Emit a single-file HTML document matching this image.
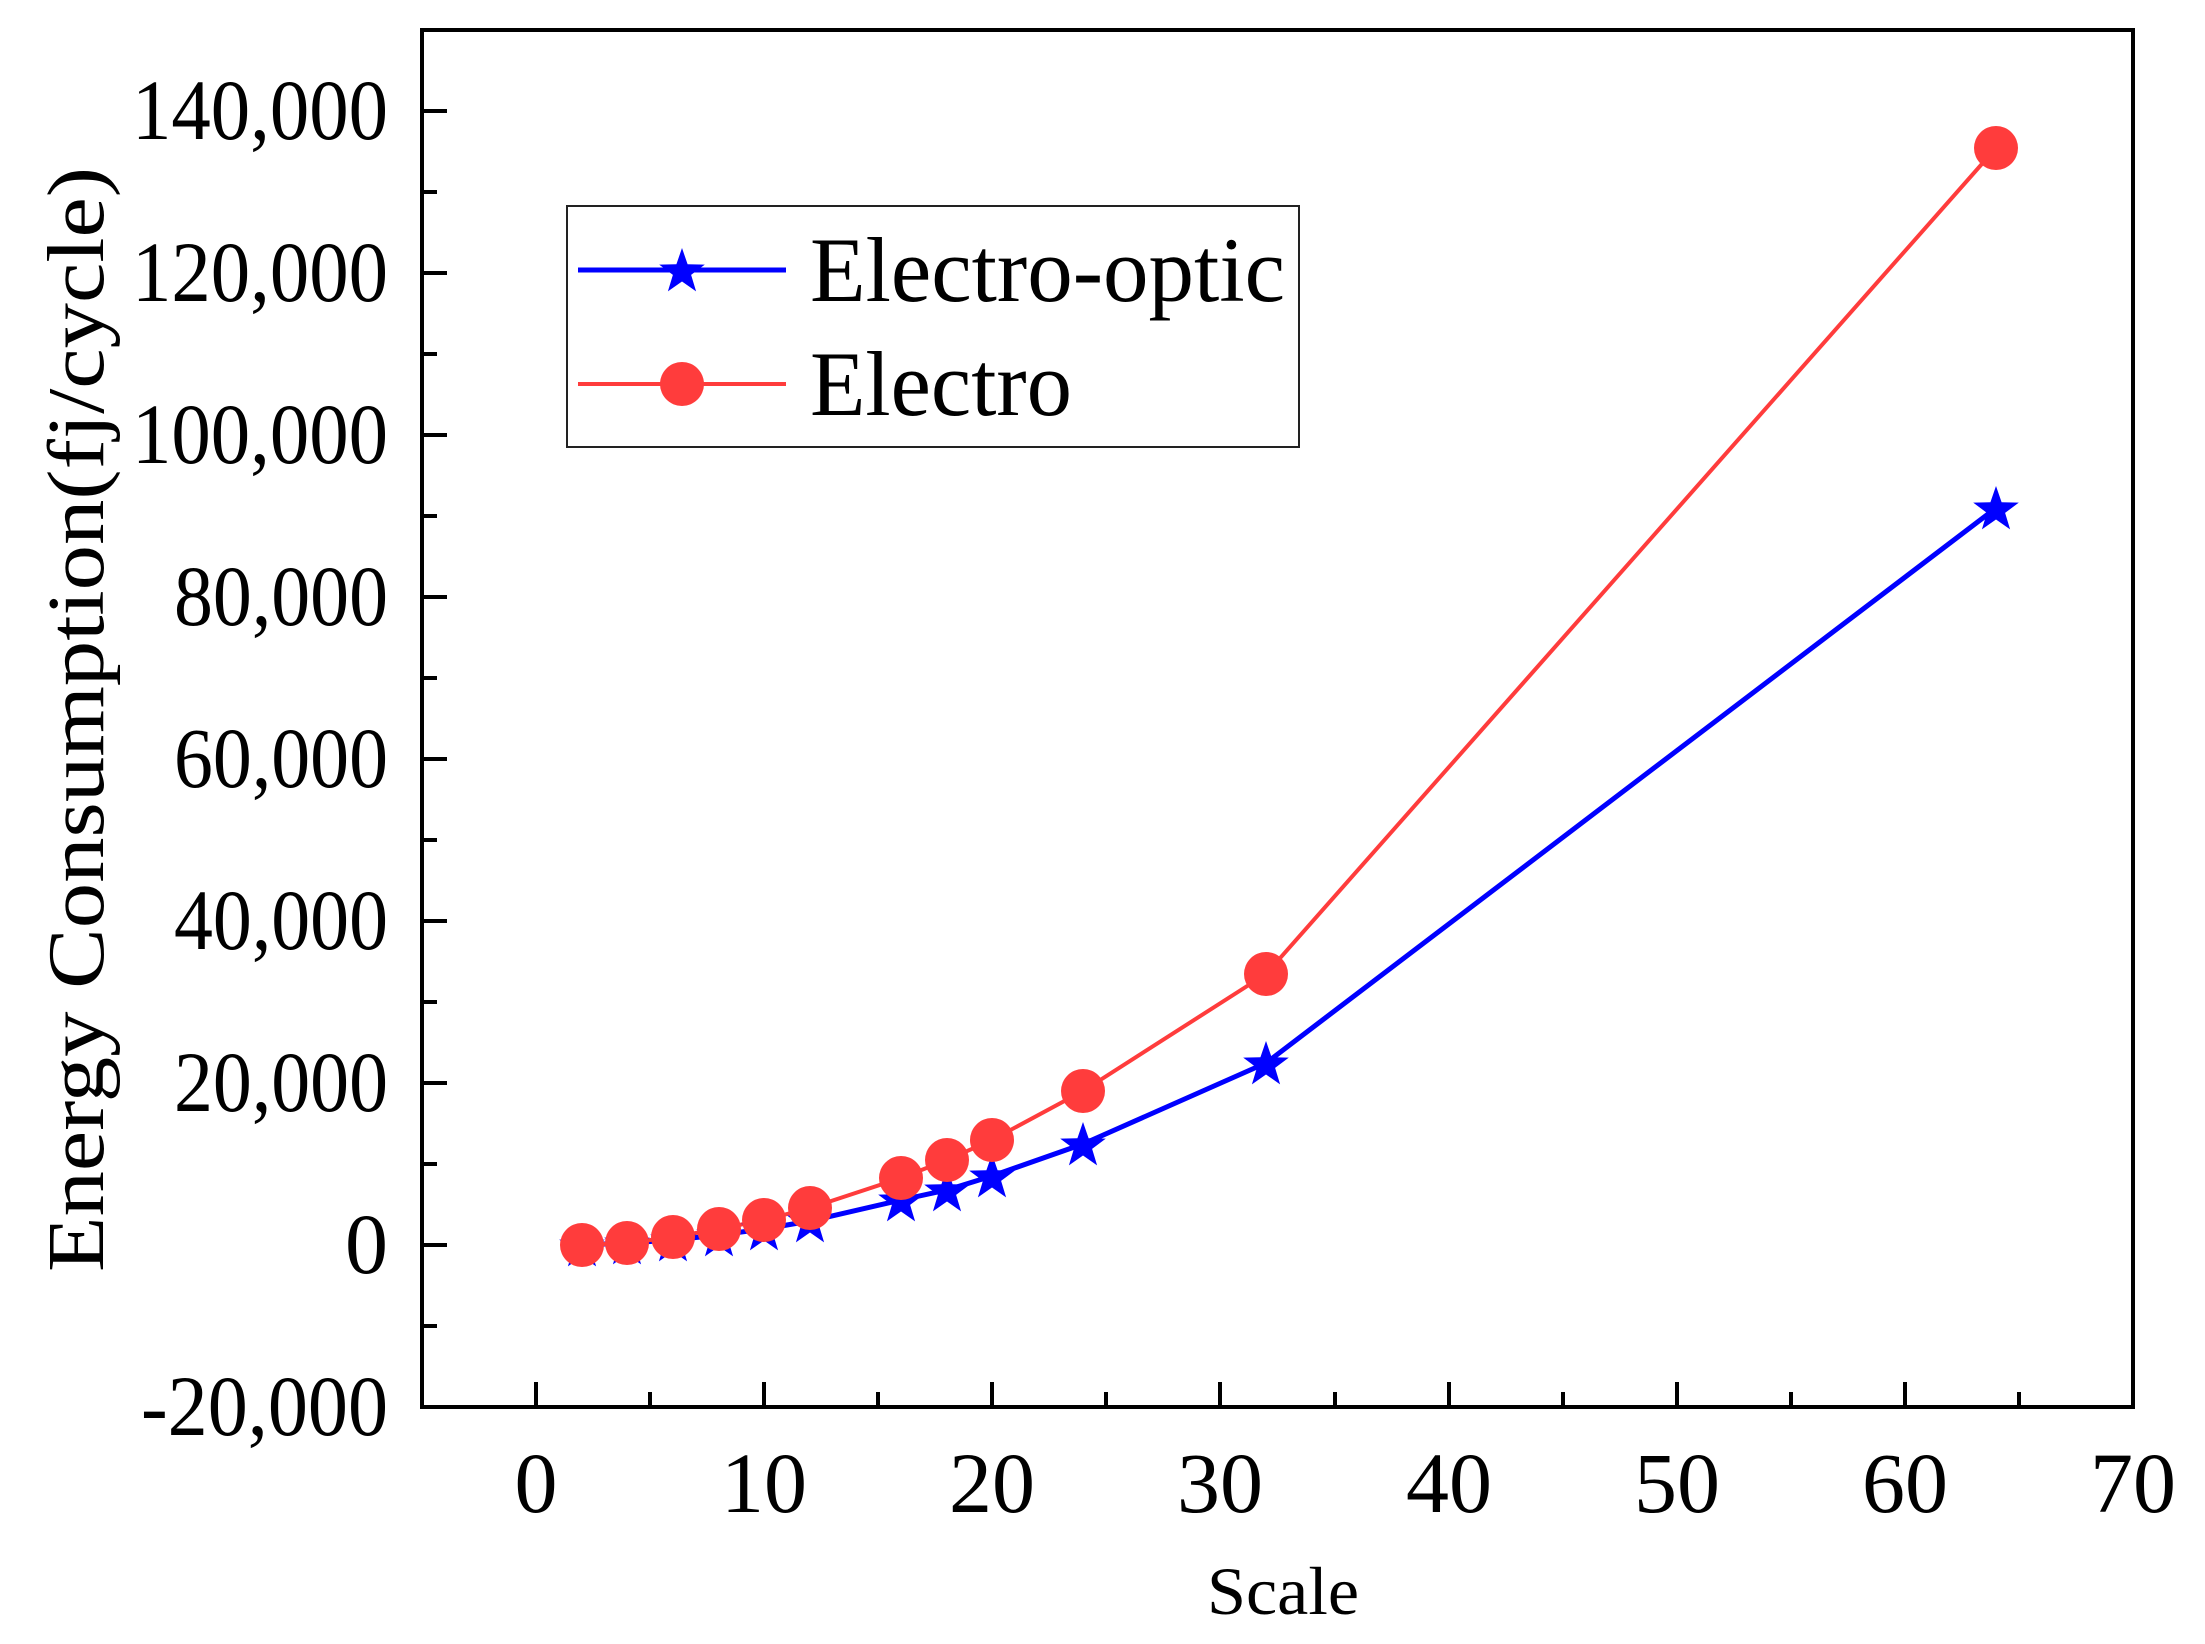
<!DOCTYPE html>
<html><head><meta charset="utf-8"><style>html,body{margin:0;padding:0;background:#fff}svg{display:block}</style></head><body>
<svg width="2205" height="1644" viewBox="0 0 2205 1644" xmlns="http://www.w3.org/2000/svg" font-family="'Liberation Serif', serif">
<defs>
<path id="star" d="M0,-24 L5.6,-7.7 L22.8,-7.4 L9.1,2.9 L14.1,19.4 L0,9.5 L-14.1,19.4 L-9.1,2.9 L-22.8,-7.4 L-5.6,-7.7 Z" fill="#0000ff"/>
</defs>
<rect x="0" y="0" width="2205" height="1644" fill="#fff"/>
<g stroke="#000" stroke-width="4">
<line x1="536" y1="1407" x2="536" y2="1382"/><line x1="764" y1="1407" x2="764" y2="1382"/><line x1="992" y1="1407" x2="992" y2="1382"/><line x1="1220" y1="1407" x2="1220" y2="1382"/><line x1="1449" y1="1407" x2="1449" y2="1382"/><line x1="1677" y1="1407" x2="1677" y2="1382"/><line x1="1905" y1="1407" x2="1905" y2="1382"/>
<line x1="650" y1="1407" x2="650" y2="1392"/><line x1="878" y1="1407" x2="878" y2="1392"/><line x1="1106" y1="1407" x2="1106" y2="1392"/><line x1="1335" y1="1407" x2="1335" y2="1392"/><line x1="1563" y1="1407" x2="1563" y2="1392"/><line x1="1791" y1="1407" x2="1791" y2="1392"/><line x1="2019" y1="1407" x2="2019" y2="1392"/>
<line x1="422" y1="1245" x2="447" y2="1245"/><line x1="422" y1="1083" x2="447" y2="1083"/><line x1="422" y1="921" x2="447" y2="921"/><line x1="422" y1="759" x2="447" y2="759"/><line x1="422" y1="597" x2="447" y2="597"/><line x1="422" y1="435" x2="447" y2="435"/><line x1="422" y1="273" x2="447" y2="273"/><line x1="422" y1="111" x2="447" y2="111"/>
<line x1="422" y1="1326" x2="437" y2="1326"/><line x1="422" y1="1164" x2="437" y2="1164"/><line x1="422" y1="1002" x2="437" y2="1002"/><line x1="422" y1="840" x2="437" y2="840"/><line x1="422" y1="678" x2="437" y2="678"/><line x1="422" y1="516" x2="437" y2="516"/><line x1="422" y1="354" x2="437" y2="354"/><line x1="422" y1="192" x2="437" y2="192"/>
</g>
<rect x="422" y="30" width="1711" height="1377" fill="none" stroke="#000" stroke-width="4"/>
<g font-size="86" text-anchor="end" fill="#000">
<text x="388" y="1435" textLength="247" lengthAdjust="spacingAndGlyphs">-20,000</text>
<text x="388" y="1273">0</text>
<text x="388" y="1111" textLength="214" lengthAdjust="spacingAndGlyphs">20,000</text>
<text x="388" y="949" textLength="214" lengthAdjust="spacingAndGlyphs">40,000</text>
<text x="388" y="787" textLength="214" lengthAdjust="spacingAndGlyphs">60,000</text>
<text x="388" y="625" textLength="214" lengthAdjust="spacingAndGlyphs">80,000</text>
<text x="388" y="463" textLength="256" lengthAdjust="spacingAndGlyphs">100,000</text>
<text x="388" y="301" textLength="256" lengthAdjust="spacingAndGlyphs">120,000</text>
<text x="388" y="139" textLength="256" lengthAdjust="spacingAndGlyphs">140,000</text>
</g>
<g font-size="86" text-anchor="middle" fill="#000">
<text x="536" y="1512">0</text><text x="764" y="1512">10</text><text x="992" y="1512">20</text><text x="1220" y="1512">30</text><text x="1449" y="1512">40</text><text x="1677" y="1512">50</text><text x="1905" y="1512">60</text><text x="2133" y="1512">70</text>
</g>
<text x="1283" y="1614" font-size="68" text-anchor="middle" textLength="152" lengthAdjust="spacingAndGlyphs">Scale</text>
<text transform="translate(103,1272) rotate(-90)" font-size="80" textLength="1105" lengthAdjust="spacingAndGlyphs">Energy Consumption(fj/cycle)</text>
<polyline fill="none" stroke="#0000ff" stroke-width="5" points="582,1245 627,1243 673,1240 719,1235 764,1229 810,1221 901,1200 947,1190 992,1176 1083,1144 1266,1063 1996,508"/>
<polyline fill="none" stroke="#ff3c3c" stroke-width="4" points="582,1245 627,1243 673,1237 719,1229 764,1220 810,1208 901,1178 947,1160 992,1140 1083,1091 1266,974 1996,148"/>
<g>
<use href="#star" x="582" y="1247"/><use href="#star" x="627" y="1245"/><use href="#star" x="673" y="1242"/><use href="#star" x="719" y="1237"/><use href="#star" x="764" y="1231"/><use href="#star" x="810" y="1223"/><use href="#star" x="901" y="1202"/><use href="#star" x="947" y="1192"/><use href="#star" x="992" y="1178"/><use href="#star" x="1083" y="1146"/><use href="#star" x="1266" y="1065"/><use href="#star" x="1996" y="510"/>
</g>
<g fill="#ff3c3c">
<circle cx="582" cy="1245" r="22"/><circle cx="627" cy="1243" r="22"/><circle cx="673" cy="1237" r="22"/><circle cx="719" cy="1229" r="22"/><circle cx="764" cy="1220" r="22"/><circle cx="810" cy="1208" r="22"/><circle cx="901" cy="1178" r="22"/><circle cx="947" cy="1160" r="22"/><circle cx="992" cy="1140" r="22"/><circle cx="1083" cy="1091" r="22"/><circle cx="1266" cy="974" r="22"/><circle cx="1996" cy="148" r="22"/>
</g>
<rect x="567" y="206" width="732" height="241" fill="#fff" stroke="#222" stroke-width="2"/>
<line x1="578" y1="270" x2="786" y2="270" stroke="#0000ff" stroke-width="5"/>
<use href="#star" x="682" y="272"/>
<line x1="578" y1="384" x2="786" y2="384" stroke="#ff3c3c" stroke-width="4"/>
<circle cx="682" cy="384" r="22" fill="#ff3c3c"/>
<text x="810" y="301" font-size="92" textLength="475" lengthAdjust="spacingAndGlyphs">Electro-optic</text>
<text x="810" y="415" font-size="92" textLength="262" lengthAdjust="spacingAndGlyphs">Electro</text>
</svg>
</body></html>
